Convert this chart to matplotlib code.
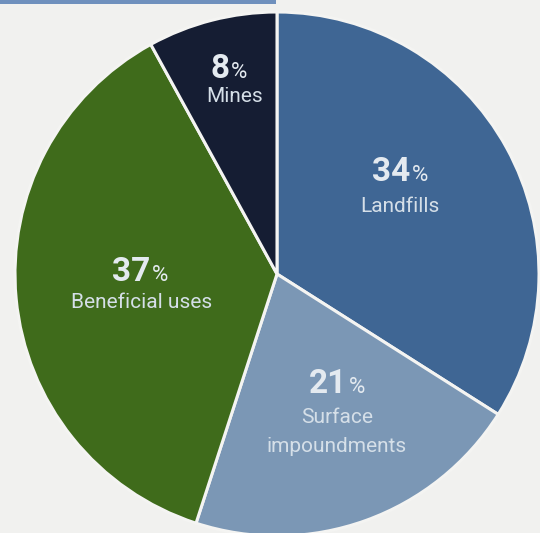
import matplotlib
matplotlib.use('Agg')
import matplotlib.pyplot as plt
from matplotlib.patches import Rectangle

# data
categories = ['Landfills', 'Surface\nimpoundments', 'Beneficial uses', 'Mines']
shares = [34, 21, 37, 8]
colors = ['#3f6694', '#7b97b5', '#3f6b1b', '#151d33']

# label spots (pixel coords in the image, y from top)
num_pos = [(400, 170), (337, 382), (140, 270), (229, 67)]
lab_pos = [(400, 206), (337, 432), (142, 303), (235, 97)]

plt.rcParams['font.family'] = ['Roboto', 'DejaVu Sans']

W, H = 540, 533
fig = plt.figure(figsize=(W / 100, H / 100), dpi=100)
fig.patch.set_facecolor('#f1f1ef')
ax = fig.add_axes([0, 0, 1, 1])

ax.pie(shares, colors=colors, startangle=90, counterclock=False,
       center=(277, H - 274), radius=262, frame=True,
       wedgeprops=dict(edgecolor='#f4f4f2', linewidth=2.2))

# blue header strip at top left
ax.add_patch(Rectangle((0, H - 4), 276, 4, color='#6f90bd', lw=0))

ax.set_xlim(0, W)
ax.set_ylim(0, H)
ax.set_aspect('equal')
ax.axis('off')

fig.canvas.draw()
r = fig.canvas.get_renderer()

txt_col = '#e4eaf0'
for i in range(len(categories)):
    x, y = num_pos[i]
    y = H - y
    n = ax.text(x, y, str(shares[i]), fontsize=24, fontweight='bold',
                color=txt_col, ha='left', va='baseline')
    p = ax.text(x, y, '%', fontsize=16, color=txt_col, ha='left', va='baseline')
    wn = n.get_window_extent(r).width
    wp = p.get_window_extent(r).width
    tot = wn + wp + 1
    base = y - 11
    n.set_position((x - tot / 2, base))
    p.set_position((x - tot / 2 + wn + 1, base))

    lx, ly = lab_pos[i]
    ax.text(lx, H - ly, categories[i], fontsize=15, color='#d5dfe8',
            ha='center', va='center', linespacing=1.65)

fig.savefig('out.png', dpi=100, facecolor=fig.get_facecolor())
